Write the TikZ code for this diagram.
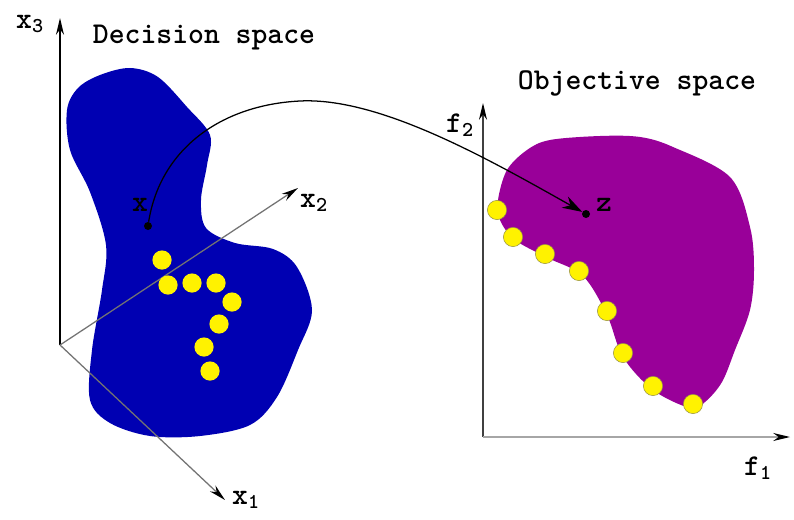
\documentclass[tikz,border=0pt]{standalone}
\usetikzlibrary{arrows.meta}
\definecolor{decblue}{RGB}{0,0,178}
\definecolor{objpurple}{RGB}{153,0,153}

\begin{document}
\begin{tikzpicture}[x=0.025cm, y=-0.025cm,
    lbl/.style={font=\ttfamily\bfseries\fontsize{21.5}{24}\selectfont, inner sep=0pt},
    axis/.style={-{Stealth[length=0.42cm, width=0.2cm, color=black]}, line width=0.9pt, draw=black},
    faint/.style={axis, draw=black!55},
    sol/.style={circle, fill=yellow, minimum size=0.48cm, inner sep=0pt},
    front/.style={sol, draw=yellow!55!black, line width=0.4pt},
    pt/.style={circle, fill=black, minimum size=0.2cm, inner sep=0pt},
    map/.style={-{Stealth[length=0.5cm, width=0.32cm]}, line width=0.9pt}]

\useasboundingbox (0,0) rectangle (794,519);

\fill[decblue] plot[smooth cycle, tension=0.55] coordinates {(67,110) (78,88) (100,75) (130,68) (158,77) (187,107) (210,135) (207,165) (201,200) (206,228) (235,243) (273,249) (297,267) (312,310) (298,350) (277,397) (250,425) (200,436) (150,436) (110,423) (90,400) (92,350) (102,290) (106,245) (90,192) (70,150)};
\fill[objpurple] plot[smooth cycle, tension=0.55] coordinates {(498,200) (507,170) (527,150) (550,140) (600,136) (640,137) (673,147) (730,177) (750,227) (754,270) (750,310) (735,350) (722,382) (705,402) (690,408) (653,390) (623,357) (607,315) (583,276) (548,258) (515,240) (500,220)};

\coordinate (o1) at (60,345);
\coordinate (x1end) at (225,500);
\coordinate (x2end) at (298,188);
\coordinate (x3end) at (60,18);
\coordinate (o2) at (483,437);
\coordinate (f1end) at (790,437);
\coordinate (f2end) at (483,103);

\draw[axis] (o1) -- (x3end);
\draw[faint] (o1) -- (x2end);
\draw[faint] (o1) -- (x1end);
\draw[axis, draw=black!75] (o2) -- (f2end);
\draw[faint, draw=black!35] (o2) -- (f1end);

\node[lbl] (x3lab) at (30,24) {x\textsubscript{3}};
\node[lbl] (x2lab) at (314,203) {x\textsubscript{2}};
\node[lbl] (x1lab) at (246,500) {x\textsubscript{1}};
\node[lbl] (f2lab) at (460,125) {f\textsubscript{2}};
\node[lbl] (f1lab) at (758,468) {f\textsubscript{1}};
\node[lbl] (dec) at (204,38) {Decision space};
\node[lbl] (obj) at (637,83) {Objective space};

\foreach \p [count=\i] in {(162,260),(168,285),(192,283),(216,283),(232,302),(219,324),(204,347),(210,371)}
  \node[sol] (s\i) at \p {};
\foreach \p [count=\i] in {(497,210),(513,237),(545,254),(579,271),(607,311),(623,353),(653,386),(693,404)}
  \node[front] (p\i) at \p {};

\node[pt] (xpt) at (148,226) {};
\node[lbl] (xlab) at (140,205) {x};
\node[pt] (zpt) at (586,214) {};
\node[lbl] (zlab) at (604,205) {z};

\coordinate (peak) at (300,101);
\draw[map] (xpt) .. controls (160,150) and (220,105) .. (peak) .. controls (380,97) and (490,160) .. (zpt);

\end{tikzpicture}
\end{document}
